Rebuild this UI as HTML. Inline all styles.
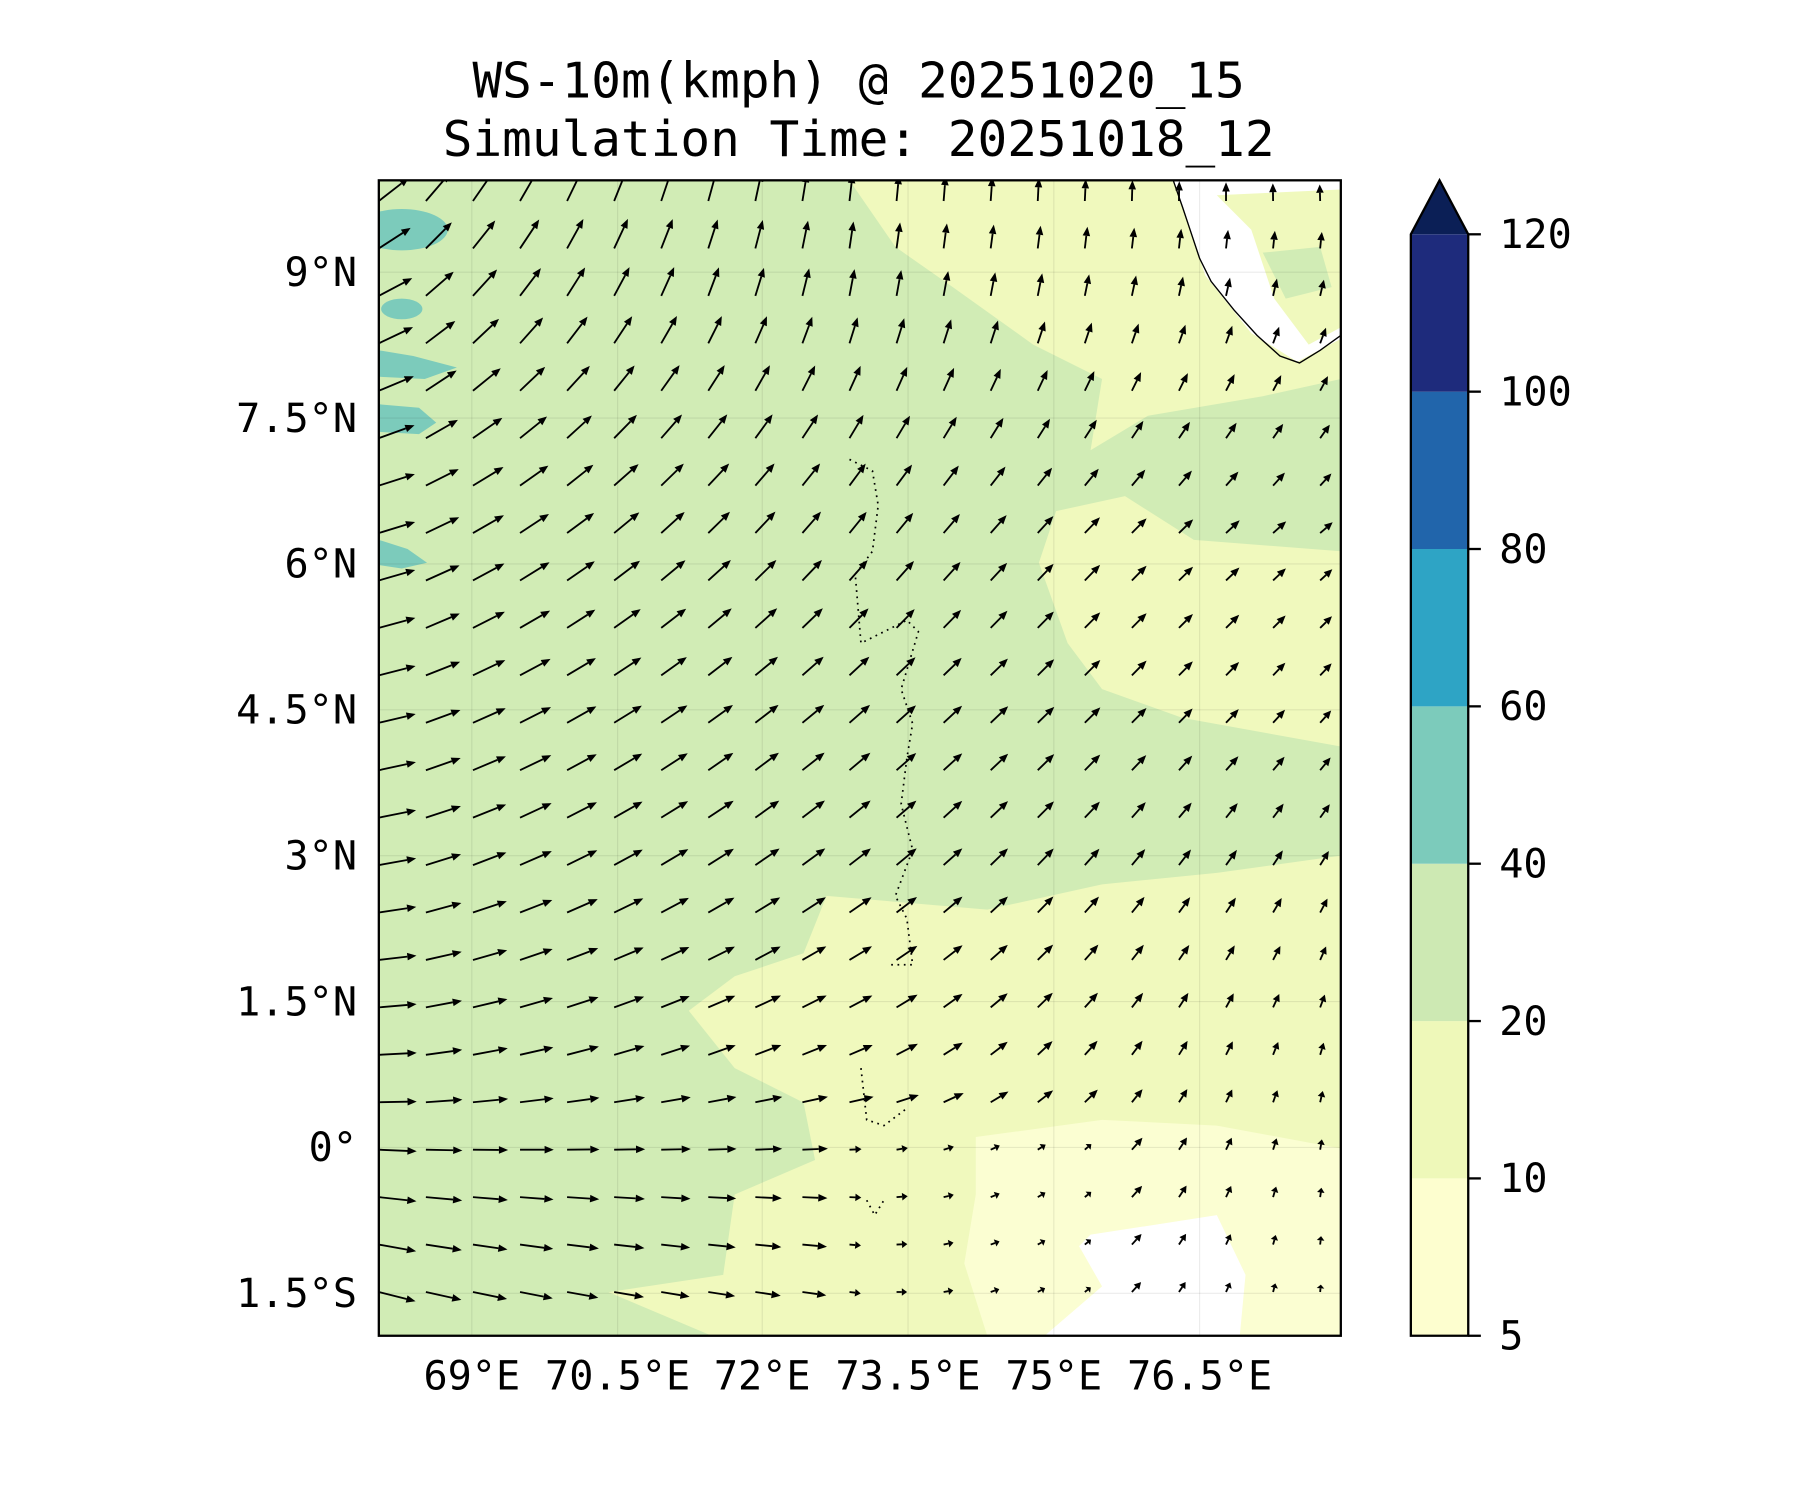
<!DOCTYPE html>
<html><head><meta charset="utf-8"><style>
html,body{margin:0;padding:0;background:#fff;}
svg{display:block}
text{font-family:"DejaVu Sans Mono","Liberation Mono",monospace;fill:#000}
</style></head><body>
<svg id="s" width="1800" height="1500" viewBox="0 0 1568 1306" preserveAspectRatio="none" xmlns="http://www.w3.org/2000/svg">
<defs><clipPath id="c"><rect x="330" y="157" width="838" height="1006"/></clipPath></defs>
<g clip-path="url(#c)">
<rect x="330" y="157" width="838" height="1006" fill="#d1ecb5"/>
<polygon fill="#f0f9bd" points="740,157 1168,157 1168,330 1100,345 1000,362 950,392 960,330 900,300 830,250 780,215"/>
<polygon fill="#f0f9bd" points="920,445 980,432 1040,470 1168,480 1168,650 1030,625 960,600 930,560 905,490"/>
<polygon fill="#f0f9bd" points="720,780 860,792 960,770 1060,760 1168,745 1168,1163 620,1163 530,1125 630,1110 640,1040 710,1010 700,960 640,930 600,880 640,850 700,830"/>
<polygon fill="#fbfed2" points="850,990 960,975 1060,980 1168,1000 1168,1163 860,1163 840,1100 850,1040"/>
<polygon fill="#ffffff" points="950,1075 1060,1058 1085,1110 1080,1163 910,1163 960,1120 940,1085"/>
<polygon fill="#ffffff" points="1022,157 1168,157 1168,295 1130,315 1090,290 1050,240"/>
<polygon fill="#f0f9bd" points="1060,170 1168,165 1168,285 1140,300 1110,260 1090,200"/>
<polygon fill="#d1ecb5" points="1100,220 1150,215 1160,250 1120,260"/>
<ellipse cx="350" cy="200" rx="40" ry="18" fill="#7ccbbb"/>
<ellipse cx="350" cy="269" rx="18" ry="9" fill="#7ccbbb"/>
<path d="M330,305 L360,310 L398,320 L370,330 L330,328Z" fill="#7ccbbb"/>
<path d="M330,352 L365,355 L380,368 L365,378 L330,376Z" fill="#7ccbbb"/>
<path d="M330,470 L355,478 L372,490 L350,495 L330,492Z" fill="#7ccbbb"/>
<g stroke="#000" stroke-opacity="0.08" stroke-width="1">
<line x1="330" x2="1168" y1="237" y2="237"/><line x1="330" x2="1168" y1="364" y2="364"/><line x1="330" x2="1168" y1="491" y2="491"/><line x1="330" x2="1168" y1="618" y2="618"/><line x1="330" x2="1168" y1="745" y2="745"/><line x1="330" x2="1168" y1="872" y2="872"/><line x1="330" x2="1168" y1="999" y2="999"/><line x1="330" x2="1168" y1="1126" y2="1126"/>
<line y1="157" y2="1163" x1="411" x2="411"/><line y1="157" y2="1163" x1="538" x2="538"/><line y1="157" y2="1163" x1="664" x2="664"/><line y1="157" y2="1163" x1="791" x2="791"/><line y1="157" y2="1163" x1="918" x2="918"/><line y1="157" y2="1163" x1="1045" x2="1045"/>
</g>
<path d="M1022,157 L1030,180 L1035,195 L1045,225 L1055,245 L1075,270 L1095,292 L1115,310 L1132,316 L1150,305 L1168,292" fill="none" stroke="#000" stroke-width="1.2"/>
<path d="M740,400 L760,410 L765,440 L760,480 L745,500 L750,560 L790,540 L800,550 L785,600 L795,630 L790,660 L785,700 L795,740 L780,780 L790,800 L795,840 L775,840 M750,930 L755,975 L770,980 L790,965 M755,1045 L762,1058 L770,1045" fill="none" stroke="#000" stroke-width="1.5" stroke-dasharray="1.5,4"/>
<g id="arr"></g>
</g>
<rect x="330" y="157" width="838" height="1006" fill="none" stroke="#000" stroke-width="2"/>
<text x="748" y="85" font-size="43" text-anchor="middle">WS-10m(kmph) @ 20251020_15</text>
<text x="748" y="136" font-size="43" text-anchor="middle">Simulation Time: 20251018_12</text>
<g font-size="35" text-anchor="end">
<text x="311" y="249">9°N</text><text x="311" y="376">7.5°N</text><text x="311" y="503">6°N</text><text x="311" y="630">4.5°N</text><text x="311" y="757">3°N</text><text x="311" y="884">1.5°N</text><text x="311" y="1011">0°</text><text x="311" y="1138">1.5°S</text>
</g>
<g font-size="35" text-anchor="middle">
<text x="411" y="1210">69°E</text><text x="538" y="1210">70.5°E</text><text x="664" y="1210">72°E</text><text x="791" y="1210">73.5°E</text><text x="918" y="1210">75°E</text><text x="1045" y="1210">76.5°E</text>
</g>
<rect x="1229" y="1026" width="50" height="137" fill="#fdfecf"/>
<rect x="1229" y="889" width="50" height="137" fill="#eef8b9"/>
<rect x="1229" y="752" width="50" height="137" fill="#cde9b3"/>
<rect x="1229" y="615" width="50" height="137" fill="#7ccbbb"/>
<rect x="1229" y="478" width="50" height="137" fill="#2ea4c5"/>
<rect x="1229" y="341" width="50" height="137" fill="#2165ab"/>
<rect x="1229" y="204" width="50" height="137" fill="#1e2b7c"/>
<polygon points="1229,204 1254,157 1279,204" fill="#0b1f56"/>
<polygon points="1229,1163 1229,204 1254,157 1279,204 1279,1163" fill="none" stroke="#000" stroke-width="2"/>
<g stroke="#000" stroke-width="2">
<line x1="1279" x2="1290" y1="204" y2="204"/><line x1="1279" x2="1290" y1="341" y2="341"/><line x1="1279" x2="1290" y1="478" y2="478"/><line x1="1279" x2="1290" y1="615" y2="615"/><line x1="1279" x2="1290" y1="752" y2="752"/><line x1="1279" x2="1290" y1="889" y2="889"/><line x1="1279" x2="1290" y1="1026" y2="1026"/><line x1="1279" x2="1290" y1="1163" y2="1163"/>
</g>
<g font-size="35">
<text x="1306" y="216">120</text><text x="1306" y="353">100</text><text x="1306" y="490">80</text><text x="1306" y="627">60</text><text x="1306" y="764">40</text><text x="1306" y="901">20</text><text x="1306" y="1038">10</text><text x="1306" y="1175">5</text>
</g>
</svg>
<script>
(function(){
function interp(pts,v){for(var i=0;i<pts.length-1;i++){if(v<=pts[i+1][0]){var t=(v-pts[i][0])/(pts[i+1][0]-pts[i][0]);return pts[i][1]+t*(pts[i+1][1]-pts[i][1]);}}return pts[pts.length-1][1];}
var L=[[0,40],[0.1,28],[0.25,18],[0.4,15],[0.6,10],[0.8,1],[0.9,-8],[1,-18]];
var R=[[0,95],[0.3,40],[0.5,50],[0.7,70],[0.85,85],[1,90]];
var M=[[0,85],[0.1,80],[0.25,55],[0.45,42],[0.6,38],[0.75,25],[0.85,0],[1,-10]];
var s='';
for(var k=0;k<24;k++){var y=175+41.3*k;var v=(y-157)/1006;
 for(var j=0;j<21;j++){var x=330+41.0*j;var u=(x-330)/838;
  var a;if(u<0.5){var t=u/0.5;t=Math.pow(t,0.6);a=interp(L,v)*(1-t)+interp(M,v)*t;}else{var t=(u-0.5)/0.5;a=interp(M,v)*(1-t)+interp(R,v)*t;}
  var lr=v<0.6?14:14-9*(v-0.6)/0.4;var len=33*(1-u)+lr*u;
  if(v>0.8&&u>0.45&&u<0.75)len*=0.5;
  var r=a*Math.PI/180,dx=Math.cos(r),dy=-Math.sin(r);
  var x2=x+dx*len,y2=y+dy*len;var hl=Math.min(8,len*0.5),hw=3.3;
  var bx=x2-dx*hl,by=y2-dy*hl;
  s+='<line x1="'+x.toFixed(1)+'" y1="'+y.toFixed(1)+'" x2="'+bx.toFixed(1)+'" y2="'+by.toFixed(1)+'" stroke="#000" stroke-width="1.6"/>';
  s+='<polygon points="'+x2.toFixed(1)+','+y2.toFixed(1)+' '+(bx-dy*hw).toFixed(1)+','+(by+dx*hw).toFixed(1)+' '+(bx+dy*hw).toFixed(1)+','+(by-dx*hw).toFixed(1)+'" fill="#000"/>';
 }}
document.getElementById('arr').innerHTML=s;
})();
</script>
</body></html>
